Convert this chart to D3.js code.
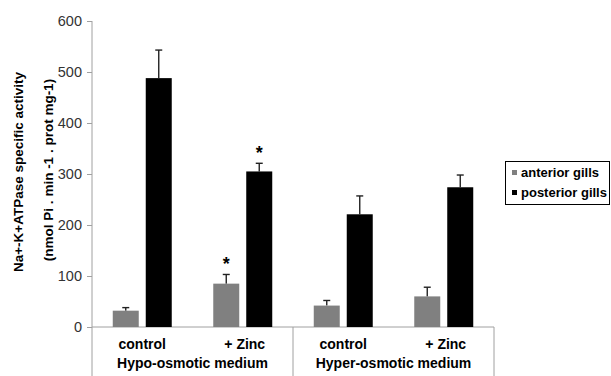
<!DOCTYPE html>
<html><head><meta charset="utf-8">
<script src="https://cdn.jsdelivr.net/npm/d3@7"></script>
<style>body{margin:0;background:#fff;}svg{display:block;font-family:"Liberation Sans",Arial,sans-serif;}</style>
</head><body>
<svg id="c" width="611" height="376"></svg>
<script>
const categories = ["control", "+ Zinc", "control", "+ Zinc"];
const groups = ["Hypo-osmotic medium", "Hyper-osmotic medium"];
const seriesNames = ["anterior gills", "posterior gills"];
const anteriorValues = [32, 85, 42, 60];
const anteriorErrors = [6, 18, 10, 18];
const posteriorValues = [488, 305, 221, 274];
const posteriorErrors = [55, 16, 36, 24];
const significant = [[false, true, false, false], [false, true, false, false]];
const yTicks = [0, 100, 200, 300, 400, 500, 600];
const colors = ["#808080", "#000000"];

const svg = d3.select("#c");
const x0 = d3.scaleBand().domain(d3.range(categories.length)).range([92, 494]).padding(0);
const x1 = d3.scaleBand().domain([0, 1]).range([0, x0.bandwidth()]).paddingInner(0.212).paddingOuter(0.629);
const y = d3.scaleLinear().domain([0, 600]).range([327, 21]);
const axisColor = "#a0a0a0";

// y axis
const yAxis = svg.append("g").attr("transform", "translate(92,0)")
  .call(d3.axisLeft(y).tickValues(yTicks).tickSize(5).tickPadding(5));
yAxis.select(".domain").remove();
yAxis.selectAll(".tick line").attr("stroke", axisColor);
yAxis.selectAll(".tick text").attr("font-size", 14.5).attr("fill", "#333")
  .attr("font-family", "Liberation Sans, Arial, sans-serif");
svg.append("line").attr("x1", 92).attr("x2", 92).attr("y1", y(600)).attr("y2", 376).attr("stroke", axisColor);

// x axis line and group separators
svg.append("line").attr("x1", 92).attr("x2", 494).attr("y1", y(0)).attr("y2", y(0)).attr("stroke", axisColor);
[x0(2), x0(3) + x0.bandwidth()].forEach(xx => {
  svg.append("line").attr("x1", xx).attr("x2", xx).attr("y1", y(0)).attr("y2", 376).attr("stroke", axisColor);
});

// bars
const series = [
  {vals: anteriorValues, errs: anteriorErrors},
  {vals: posteriorValues, errs: posteriorErrors}
];
series.forEach((s, si) => {
  const g = svg.append("g");
  s.vals.forEach((v, ci) => {
    const bx = x0(ci) + x1(si);
    const cx = bx + x1.bandwidth() / 2;
    const top = y(v + s.errs[ci]);
    g.append("line").attr("x1", cx).attr("x2", cx).attr("y1", y(v)).attr("y2", top)
      .attr("stroke", "#222").attr("stroke-width", 1.4);
    g.append("line").attr("x1", cx - 3.5).attr("x2", cx + 3.5).attr("y1", top).attr("y2", top)
      .attr("stroke", "#222").attr("stroke-width", 1.4);
    g.append("rect").attr("x", bx).attr("y", y(v)).attr("width", x1.bandwidth())
      .attr("height", y(0) - y(v)).attr("fill", colors[si]);
    if (significant[si][ci]) {
      g.append("text").attr("x", cx).attr("y", top - 4).attr("text-anchor", "middle")
        .attr("font-size", 18).attr("font-weight", "bold").attr("fill", "#000").text("*");
    }
  });
});

// category labels
categories.forEach((c, ci) => {
  svg.append("text").attr("x", x0(ci) + x0.bandwidth() / 2 - (ci % 2 ? -2 : 0)).attr("y", 349)
    .attr("text-anchor", "middle").attr("font-size", 14).attr("font-weight", "bold").attr("fill", "#000").text(c);
});
groups.forEach((gname, gi) => {
  svg.append("text").attr("x", x0(gi * 2) + x0.bandwidth()).attr("y", 368)
    .attr("text-anchor", "middle").attr("font-size", 14).attr("font-weight", "bold").attr("fill", "#000").text(gname);
});

// y title
svg.append("text").attr("transform", "translate(23,172) rotate(-90)").attr("text-anchor", "middle")
  .attr("font-size", 13.5).attr("font-weight", "bold").attr("fill", "#000").text("Na+-K+ATPase specific activity");
svg.append("text").attr("transform", "translate(53,170) rotate(-90)").attr("text-anchor", "middle")
  .attr("font-size", 13.5).attr("font-weight", "bold").attr("fill", "#000").text("(nmol Pi . min -1 . prot mg-1)");

// legend
const lg = svg.append("g").attr("transform", "translate(505,161)");
lg.append("rect").attr("x", 0.5).attr("y", 0.5).attr("width", 104).attr("height", 43)
  .attr("fill", "#fff").attr("stroke", "#000").attr("stroke-width", 1);
seriesNames.forEach((n, i) => {
  lg.append("rect").attr("x", 7).attr("y", 9 + i * 20).attr("width", 5).attr("height", 5).attr("fill", colors[i]);
  lg.append("text").attr("x", 16).attr("y", 16 + i * 20).attr("font-size", 13).attr("font-weight", "bold")
    .attr("fill", "#000").text(n);
});
</script>
</body></html>
